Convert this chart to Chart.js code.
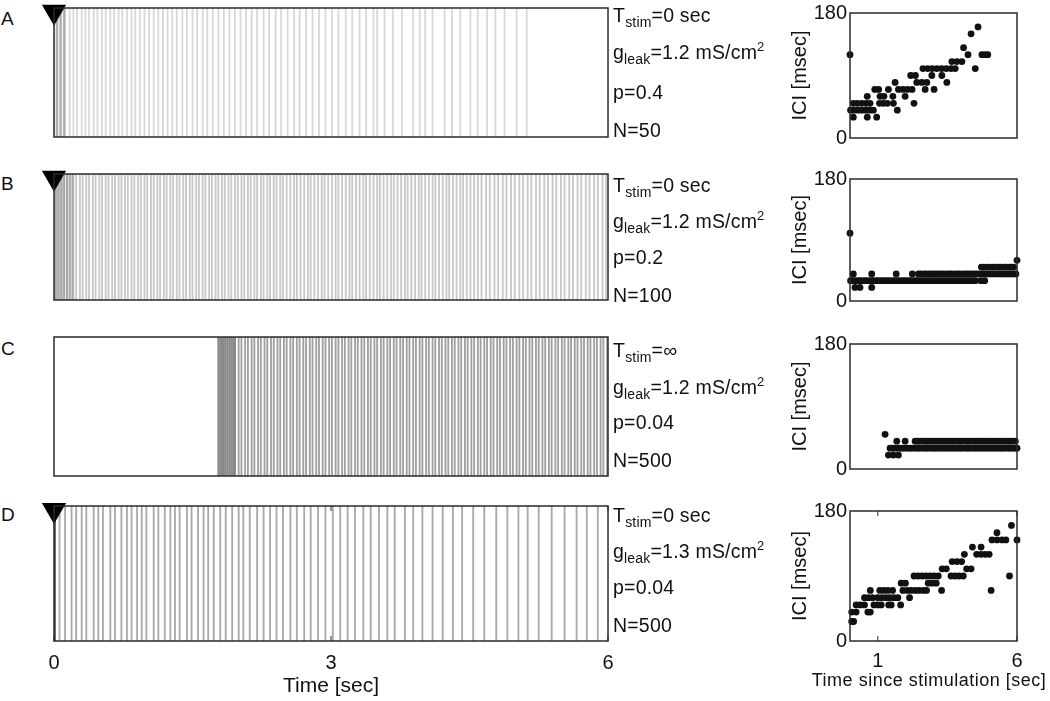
<!DOCTYPE html>
<html>
<head>
<meta charset="utf-8">
<script src="https://cdn.jsdelivr.net/npm/chart.js@4.4.0/dist/chart.umd.min.js"></script>
<style>
  body { margin: 0; background: #fff; width: 1050px; height: 701px; position: relative; overflow: hidden;
         font-family: "Liberation Sans", Arial, Helvetica, sans-serif; color: #111; }
  canvas { position: absolute; }
  .lbl { position: absolute; left: 613px; font-size: 19.5px; line-height: 20px; white-space: nowrap; letter-spacing: 0.2px; }
  .lbl sub { font-size: 14px; vertical-align: -5px; line-height: 0; }
  .lbl sup { font-size: 13px; vertical-align: 8px; line-height: 0; }
  .letter { position: absolute; left: 1px; font-size: 19px; line-height: 20px; }
  .xtitle { position: absolute; font-size: 18px; line-height: 20px; white-space: nowrap; letter-spacing: 0.5px;
            transform: translateX(-50%); }
</style>
</head>
<body>
<canvas id="rasterA"></canvas>
<canvas id="rasterB"></canvas>
<canvas id="rasterC"></canvas>
<canvas id="rasterD"></canvas>
<canvas id="iciChartA"></canvas>
<canvas id="iciChartB"></canvas>
<canvas id="iciChartC"></canvas>
<canvas id="iciChartD"></canvas>

<div class="letter" style="top:9px">A</div>
<div class="letter" style="top:174px">B</div>
<div class="letter" style="top:339px">C</div>
<div class="letter" style="top:505px">D</div>

<div class="lbl" style="top:5px">T<sub>stim</sub>=0 sec</div>
<div class="lbl" style="top:42px">g<sub>leak</sub>=1.2 mS/cm<sup>2</sup></div>
<div class="lbl" style="top:82px">p=0.4</div>
<div class="lbl" style="top:120px">N=50</div>

<div class="lbl" style="top:175px">T<sub>stim</sub>=0 sec</div>
<div class="lbl" style="top:211px">g<sub>leak</sub>=1.2 mS/cm<sup>2</sup></div>
<div class="lbl" style="top:247px">p=0.2</div>
<div class="lbl" style="top:285px">N=100</div>

<div class="lbl" style="top:340px">T<sub>stim</sub>=∞</div>
<div class="lbl" style="top:377px">g<sub>leak</sub>=1.2 mS/cm<sup>2</sup></div>
<div class="lbl" style="top:412px">p=0.04</div>
<div class="lbl" style="top:450px">N=500</div>

<div class="lbl" style="top:505px">T<sub>stim</sub>=0 sec</div>
<div class="lbl" style="top:541px">g<sub>leak</sub>=1.3 mS/cm<sup>2</sup></div>
<div class="lbl" style="top:577px">p=0.04</div>
<div class="lbl" style="top:615px">N=500</div>

<div class="xtitle" style="left:929px; top:670px">Time since stimulation [sec]</div>

<script>
// population burst times (sec) for the raster panels
var burstsA = [0.00,0.04,0.08,0.12,0.17,0.21,0.25,0.30,0.34,0.38,0.43,0.47,0.52,0.56,0.61,0.65,0.70,0.74,0.79,0.84,
  0.88,0.93,0.98,1.03,1.08,1.13,1.18,1.23,1.28,1.33,1.39,1.44,1.50,1.55,1.61,1.66,1.72,1.78,1.84,1.90,1.96,2.02,
  2.08,2.14,2.20,2.27,2.33,2.40,2.46,2.53,2.60,2.66,2.73,2.80,2.87,2.94,3.01,3.08,3.16,3.23,3.31,3.38,3.46,3.50,
  3.58,3.67,3.77,3.89,3.96,4.02,4.10,4.23,4.31,4.40,4.51,4.59,4.69,4.78,4.88,5.01,5.12];
var onsetA = [0.03,0.07,0.11];

var burstsB = [0.00,0.04,0.07,0.10,0.14,0.17,0.21,0.24,0.28,0.31,0.35,0.38,0.42,0.45,0.49,0.52,0.56,0.59,0.63,0.66,
  0.70,0.73,0.77,0.80,0.84,0.87,0.91,0.94,0.98,1.01,1.05,1.08,1.12,1.15,1.19,1.22,1.26,1.29,1.33,1.36,1.40,1.43,
  1.47,1.50,1.54,1.57,1.61,1.64,1.68,1.71,1.75,1.78,1.82,1.85,1.89,1.92,1.96,1.99,2.03,2.06,2.10,2.13,2.17,2.20,
  2.24,2.27,2.31,2.34,2.38,2.41,2.45,2.48,2.52,2.56,2.60,2.63,2.67,2.71,2.75,2.78,2.82,2.86,2.90,2.93,2.97,3.01,
  3.05,3.08,3.12,3.16,3.20,3.23,3.27,3.31,3.35,3.38,3.42,3.46,3.50,3.53,3.57,3.61,3.65,3.68,3.72,3.76,3.80,3.83,
  3.87,3.91,3.95,3.98,4.02,4.06,4.10,4.13,4.17,4.21,4.25,4.28,4.32,4.36,4.40,4.43,4.47,4.51,4.55,4.59,4.63,4.68,
  4.72,4.77,4.81,4.86,4.90,4.95,4.99,5.04,5.08,5.13,5.17,5.22,5.26,5.31,5.35,5.40,5.44,5.49,5.53,5.58,5.62,5.67,
  5.71,5.76,5.80,5.85,5.89,5.94,5.98];
var onsetB = [0.02,0.05,0.08,0.11,0.14,0.17,0.20];

var burstsC = [2.00,2.03,2.07,2.10,2.14,2.17,2.21,2.24,2.28,2.31,2.35,2.38,2.42,2.45,2.49,2.52,2.56,2.59,2.63,2.66,
  2.70,2.73,2.77,2.80,2.84,2.87,2.91,2.94,2.98,3.01,3.05,3.08,3.12,3.15,3.19,3.22,3.26,3.29,3.33,3.36,3.40,3.43,
  3.47,3.50,3.54,3.57,3.61,3.64,3.68,3.71,3.75,3.78,3.82,3.85,3.89,3.92,3.96,3.99,4.03,4.06,4.10,4.13,4.17,4.20,
  4.24,4.27,4.31,4.34,4.38,4.41,4.45,4.48,4.52,4.55,4.59,4.62,4.66,4.69,4.73,4.76,4.80,4.83,4.87,4.90,4.94,4.97,
  5.01,5.04,5.08,5.11,5.15,5.18,5.22,5.25,5.29,5.32,5.36,5.39,5.43,5.46,5.50,5.53,5.57,5.60,5.64,5.67,5.71,5.74,
  5.78,5.81,5.85,5.88,5.92,5.95,5.99];
var onsetC = [1.78,1.80,1.82,1.84,1.86,1.88,1.90,1.92,1.94,1.96];

var burstsD = [0.06,0.12,0.19,0.24,0.30,0.35,0.43,0.48,0.53,0.61,0.66,0.73,0.79,0.84,0.90,0.95,1.00,1.08,1.13,1.20,
  1.26,1.31,1.36,1.44,1.49,1.56,1.62,1.67,1.73,1.80,1.86,1.93,2.00,2.05,2.12,2.20,2.27,2.34,2.41,2.48,2.56,2.63,
  2.71,2.78,2.86,2.94,3.02,3.10,3.18,3.26,3.35,3.43,3.52,3.61,3.69,3.80,3.89,3.99,4.10,4.21,4.32,4.42,4.54,4.66,
  4.79,4.91,5.03,5.13,5.25,5.39,5.53,5.66,5.77,5.89];
var onsetD = [0.01];

var rasterTicks = [0, 3, 6];
var iciTicksY = [0, 180];
var iciTicksX = [1, 6];

// [time since stimulation (sec), ICI (msec)]
var iciA = [[0,120],
  [0.12,30],[0.62,30],[0.96,30],
  [0.02,40],[0.14,40],[0.29,40],[0.43,40],[0.58,40],[0.72,40],[0.84,40],[1.70,40],
  [0.12,50],[0.26,50],[0.42,50],[0.58,50],[0.72,50],[1.06,50],[1.20,50],[1.34,50],[1.56,50],[2.30,50],
  [0.62,60],[1.08,60],[1.22,60],[1.54,60],[1.98,60],
  [0.89,70],[1.03,70],[1.38,70],[1.74,70],[1.90,70],[2.06,70],[2.23,70],[2.70,70],[3.02,70],
  [1.62,80],[2.40,80],[2.58,80],[2.76,80],[3.48,80],
  [2.18,90],[2.35,90],[2.94,90],[3.30,90],
  [2.62,100],[2.79,100],[2.95,100],[3.12,100],[3.29,100],[3.46,100],[3.63,100],[3.78,100],[4.50,100],
  [3.66,110],[3.84,110],[4.02,110],
  [4.24,120],[4.74,120],[4.85,120],[4.95,120],
  [4.08,130],[4.35,150],[4.60,160]];

var iciB = [[0,100],
  [0.12,40],[0.78,40],[1.66,40],[2.24,40],
  [2.46,40],[2.55,40],[2.66,40],[2.75,40],[2.86,40],[2.96,40],[3.05,40],[3.16,40],[3.26,40],[3.35,40],[3.46,40],
  [3.56,40],[3.65,40],[3.76,40],[3.86,40],[3.95,40],[4.06,40],[4.16,40],[4.25,40],[4.36,40],[4.46,40],[4.55,40],
  [4.66,40],[4.76,40],[4.85,40],[4.96,40],[5.06,40],[5.15,40],[5.26,40],[5.36,40],[5.45,40],[5.56,40],[5.66,40],
  [5.75,40],[5.86,40],[5.96,40],
  [0.02,30],[0.11,30],[0.21,30],[0.32,30],[0.41,30],[0.52,30],[0.61,30],[0.72,30],[0.81,30],[0.92,30],[1.01,30],
  [1.12,30],[1.21,30],[1.32,30],[1.41,30],[1.52,30],[1.61,30],[1.72,30],[1.81,30],[1.92,30],[2.01,30],[2.12,30],
  [2.21,30],[2.32,30],[2.41,30],[2.52,30],[2.61,30],[2.72,30],[2.81,30],[2.92,30],[3.01,30],[3.12,30],[3.21,30],
  [3.32,30],[3.41,30],[3.52,30],[3.61,30],[3.72,30],[3.81,30],[3.92,30],[4.01,30],[4.12,30],[4.21,30],[4.32,30],
  [4.41,30],[4.50,30],[4.70,30],[4.84,30],
  [0.18,20],[0.36,20],[0.78,20],
  [4.72,50],[4.81,50],[4.92,50],[5.01,50],[5.12,50],[5.21,50],[5.32,50],[5.41,50],[5.52,50],[5.61,50],[5.72,50],
  [5.80,50],[5.88,50],
  [6.00,60]];

var iciC = [[1.26,50],
  [1.68,40],[1.98,40],
  [2.34,40],[2.44,40],[2.53,40],[2.64,40],[2.74,40],[2.83,40],[2.94,40],[3.04,40],[3.13,40],[3.24,40],[3.34,40],
  [3.43,40],[3.54,40],[3.64,40],[3.73,40],[3.84,40],[3.94,40],[4.03,40],[4.14,40],[4.24,40],[4.33,40],[4.44,40],
  [4.54,40],[4.63,40],[4.74,40],[4.84,40],[4.93,40],[5.04,40],[5.14,40],[5.23,40],[5.34,40],[5.44,40],[5.53,40],
  [5.64,40],[5.74,40],[5.83,40],[5.94,40],
  [1.44,30],[1.54,30],[1.63,30],[1.74,30],[1.84,30],[1.93,30],[2.04,30],[2.14,30],[2.23,30],[2.34,30],[2.44,30],
  [2.53,30],[2.64,30],[2.74,30],[2.83,30],[2.94,30],[3.04,30],[3.13,30],[3.24,30],[3.34,30],[3.43,30],[3.54,30],
  [3.64,30],[3.73,30],[3.84,30],[3.94,30],[4.03,30],[4.14,30],[4.24,30],[4.33,30],[4.44,30],[4.54,30],[4.63,30],
  [4.74,30],[4.84,30],[4.93,30],[5.04,30],[5.14,30],[5.23,30],[5.34,30],[5.44,30],[5.53,30],[5.64,30],[5.74,30],
  [5.83,30],[5.94,30],[6.00,30],
  [1.38,20],[1.56,20],[1.74,20]];

var iciD = [[0.06,27],[0.13,27],
  [0.06,40],[0.22,40],[0.64,40],[0.73,40],
  [0.22,50],[0.36,50],[0.52,50],[0.86,50],[1.00,50],[1.12,50],[1.39,50],[1.48,50],[1.82,50],
  [0.52,60],[0.66,60],[0.81,60],[1.00,60],[1.14,60],[1.29,60],[1.43,60],[1.58,60],[1.72,60],[2.14,60],
  [0.73,70],[1.07,70],[1.22,70],[1.36,70],[1.53,70],
  [1.90,70],[2.06,70],[2.20,70],[2.35,70],[2.49,70],[2.64,70],[2.75,70],[3.29,70],[5.07,70],
  [1.84,80],[1.99,80],[2.81,80],[2.95,80],[3.10,80],
  [2.30,90],[2.45,90],[2.59,90],[2.73,90],[2.88,90],[3.02,90],[3.17,90],
  [3.63,90],[3.77,90],[3.92,90],[4.07,90],[5.73,90],
  [3.31,100],[3.46,100],[4.19,100],[4.35,100],
  [3.67,110],[3.84,110],[4.01,110],
  [4.11,120],[4.55,120],[4.71,120],[4.86,120],[5.00,120],
  [4.40,130],[4.71,130],
  [5.10,140],[5.28,140],[5.46,140],[5.60,140],[6.00,140],
  [5.28,150],[5.80,160]];

var fontFamily = '"Liberation Sans", Arial, Helvetica, sans-serif';
Chart.defaults.font.family = fontFamily;
Chart.defaults.color = '#111';

// full frame round the plot area, plus short inward ticks on a shown x axis
var boxPlugin = {
  id: 'box',
  afterDatasetsDraw: function (chart) {
    var a = chart.chartArea, ctx = chart.ctx, x = chart.scales.x;
    ctx.save();
    ctx.strokeStyle = '#2a2a2a';
    ctx.lineWidth = 1.5;
    ctx.strokeRect(a.left, a.top, a.right - a.left, a.bottom - a.top);
    if (x.options.display) {
      ctx.lineWidth = 1;
      x.ticks.forEach(function (t) {
        var px = x.getPixelForValue(t.value);
        ctx.beginPath();
        ctx.moveTo(px, a.bottom); ctx.lineTo(px, a.bottom - 5);
        ctx.moveTo(px, a.top); ctx.lineTo(px, a.top + 5);
        ctx.stroke();
      });
    }
    ctx.restore();
  }
};

var bands = [[6, 145], [172, 308], [337, 476], [504, 641]];

function makeRaster(id, band, bursts, onset, lineColor, onsetColor, marker, withAxis) {
  var canvas = document.getElementById(id);
  var padL = 24, padT = 12, padR = 24;
  var axisH = withAxis ? 58 : 0;
  canvas.width = padL + (608 - 54) + padR;
  canvas.height = padT + (band[1] - band[0]) + axisH + (withAxis ? 0 : 6);
  canvas.style.left = (54 - padL) + 'px';
  canvas.style.top = (band[0] - padT) + 'px';

  var datasets = [
    { type: 'bar', data: bursts.map(function (t) { return { x: t, y: 1 }; }),
      backgroundColor: lineColor, barThickness: 1.2, grouped: false, order: 2 },
    { type: 'bar', data: onset.map(function (t) { return { x: t, y: 1 }; }),
      backgroundColor: onsetColor, barThickness: 1.4, grouped: false, order: 1 }
  ];
  if (marker) {
    datasets.push({ type: 'scatter', data: [{ x: 0, y: 0.971 }], pointStyle: 'triangle', rotation: 180,
      pointRadius: 14, pointBackgroundColor: '#000', pointBorderColor: '#000', pointBorderWidth: 0,
      clip: false, order: 0 });
  }

  new Chart(canvas, {
    type: 'bar',
    data: { datasets: datasets },
    plugins: [boxPlugin],
    options: {
      responsive: false,
      animation: false,
      layout: { padding: { left: padL, top: padT, right: padR, bottom: withAxis ? 0 : 6 } },
      plugins: { legend: { display: false }, tooltip: { enabled: false } },
      scales: {
        x: {
          type: 'linear', min: 0, max: 6, offset: false, display: withAxis,
          grid: { display: false, drawTicks: false }, border: { display: false },
          afterBuildTicks: function (s) { s.ticks = rasterTicks.map(function (v) { return { value: v }; }); },
          afterFit: function (s) { s.height = axisH; },
          ticks: { font: { size: 20 }, color: '#111', padding: 10, autoSkip: false, maxRotation: 0 },
          title: { display: true, text: 'Time [sec]', font: { size: 21 }, color: '#111', padding: { top: 0, bottom: 0 } }
        },
        y: { min: 0, max: 1, display: false }
      }
    }
  });
}

function makeIci(id, band, points, withAxis) {
  var canvas = document.getElementById(id);
  var padL = 4, padT = 8, yAxisW = 70;
  var axisH = withAxis ? 32 : 0;
  var left = 850 - padL - yAxisW;
  canvas.width = 1050 - left;
  var padR = canvas.width - padL - yAxisW - (1017 - 850);
  canvas.height = padT + (band[1] - band[0]) + axisH + (withAxis ? 0 : 8);
  canvas.style.left = left + 'px';
  canvas.style.top = (band[0] - padT) + 'px';

  new Chart(canvas, {
    type: 'scatter',
    data: {
      datasets: [{
        data: points.map(function (p) { return { x: p[0], y: p[1] }; }),
        pointRadius: 3.4, pointBackgroundColor: '#111', pointBorderWidth: 0, clip: false
      }]
    },
    plugins: [boxPlugin],
    options: {
      responsive: false,
      animation: false,
      layout: { padding: { left: padL, top: padT, right: padR, bottom: withAxis ? 0 : 8 } },
      plugins: { legend: { display: false }, tooltip: { enabled: false } },
      scales: {
        x: {
          type: 'linear', min: 0, max: 6, display: withAxis,
          grid: { display: false, drawTicks: false }, border: { display: false },
          afterBuildTicks: function (s) { s.ticks = iciTicksX.map(function (v) { return { value: v }; }); },
          afterFit: function (s) { s.height = axisH; },
          ticks: { font: { size: 20 }, color: '#111', padding: 8, autoSkip: false, maxRotation: 0 }
        },
        y: {
          type: 'linear', min: 0, max: 180,
          grid: { display: false, drawTicks: false }, border: { display: false },
          afterBuildTicks: function (s) { s.ticks = iciTicksY.map(function (v) { return { value: v }; }); },
          afterFit: function (s) { s.width = yAxisW; },
          ticks: { font: { size: 20 }, color: '#111', padding: 3, autoSkip: false },
          title: { display: true, text: 'ICI [msec]', font: { size: 20 }, color: '#111', padding: { top: 8, bottom: 0 } }
        }
      }
    }
  });
}

makeRaster('rasterA', bands[0], burstsA, onsetA, '#d9d9d9', '#aaaaaa', true, false);
makeRaster('rasterB', bands[1], burstsB, onsetB, '#c9c9c9', '#a8a8a8', true, false);
makeRaster('rasterC', bands[2], burstsC, onsetC, '#a0a0a0', '#8a8a8a', false, false);
makeRaster('rasterD', bands[3], burstsD, onsetD, '#aaaaaa', '#666666', true, true);

makeIci('iciChartA', bands[0], iciA, false);
makeIci('iciChartB', bands[1], iciB, false);
makeIci('iciChartC', bands[2], iciC, false);
makeIci('iciChartD', bands[3], iciD, true);
</script>
</body>
</html>
